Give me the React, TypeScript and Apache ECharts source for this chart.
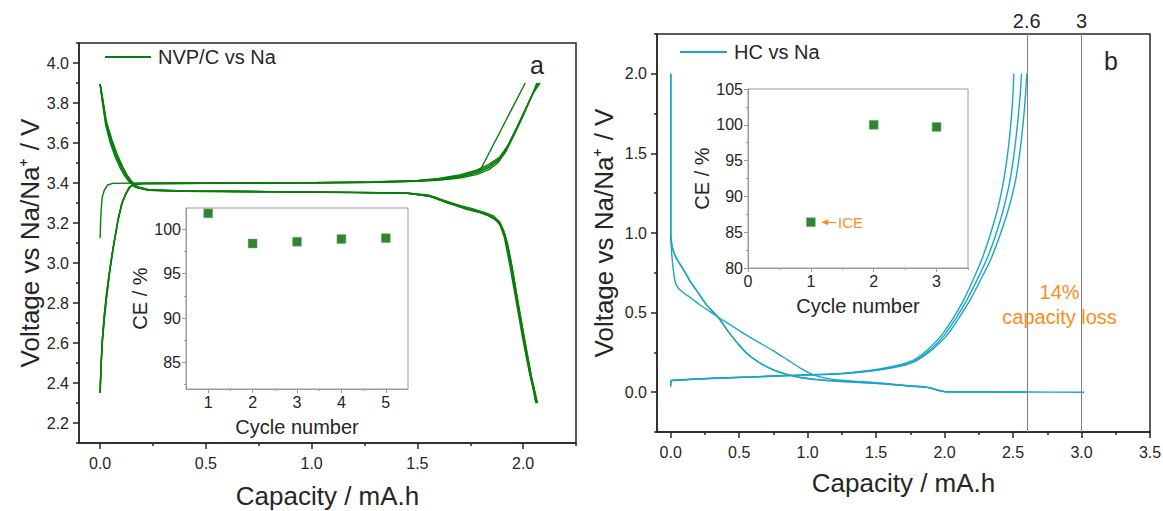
import React, { useEffect, useRef } from 'react';
import * as echarts from 'echarts';

const FONT = "'Liberation Sans', Arial, Helvetica, sans-serif";
const GREEN = '#0b7d0b';
const CYAN = '#1aa6c6';
const ORANGE = '#ff8c1a';
const DARK = '#262626';
const INSET = '#9a9a9a';
const SQUARE = '#006400';

// ---------- tick labels ----------
const aXTicks = [0, 0.5, 1.0, 1.5, 2.0];
const aXMinor = [0.25, 0.75, 1.25, 1.75, 2.25];
const aYTicks = [2.2, 2.4, 2.6, 2.8, 3.0, 3.2, 3.4, 3.6, 3.8, 4.0];
const aYMinor = [2.1, 2.3, 2.5, 2.7, 2.9, 3.1, 3.3, 3.5, 3.7, 3.9, 4.1];
const aInXTicks = [1, 2, 3, 4, 5];
const aInXMinor = [1.5, 2.5, 3.5, 4.5];
const aInYTicks = [85, 90, 95, 100];
const aInYMinor = [82.5, 87.5, 92.5, 97.5];
const bXTicks = [0, 0.5, 1.0, 1.5, 2.0, 2.5, 3.0, 3.5];
const bXMinor = [0.25, 0.75, 1.25, 1.75, 2.25, 2.75, 3.25];
const bYTicks = [0, 0.5, 1.0, 1.5, 2.0];
const bYMinor = [-0.25, 0.25, 0.75, 1.25, 1.75, 2.25];
const bInXTicks = [0, 1, 2, 3];
const bInXMinor = [0.5, 1.5, 2.5, 3.5];
const bInYTicks = [80, 85, 90, 95, 100, 105];
const bInYMinor = [82.5, 87.5, 92.5, 97.5, 102.5];

// ---------- panel a: NVP/C vs Na (capacity mA.h, voltage V) ----------
const aCharge1 = [[0, 3.125], [0.002, 3.2], [0.005, 3.27], [0.01, 3.33], [0.02, 3.365], [0.035, 3.39], [0.06, 3.398], [0.2, 3.4], [0.6, 3.4], [1.0, 3.401], [1.3, 3.403], [1.5, 3.41], [1.62, 3.42], [1.72, 3.437], [1.8, 3.47], [2.01, 3.9]];
const aCharge2 = [[0, 2.35], [0.003, 2.45], [0.01, 2.6], [0.02, 2.72], [0.03, 2.82], [0.045, 2.95], [0.06, 3.06], [0.082, 3.2], [0.1, 3.29], [0.12, 3.345], [0.137, 3.378], [0.155, 3.39], [0.2, 3.396], [0.5, 3.398], [1.0, 3.4], [1.3, 3.403], [1.5, 3.408], [1.6, 3.414], [1.7, 3.425], [1.78, 3.442], [1.84, 3.468], [1.88, 3.5], [1.92, 3.56], [1.96, 3.645], [2.0, 3.735], [2.035, 3.82], [2.065, 3.9]];
const aCharge3 = [[0, 2.35], [0.003, 2.45], [0.01, 2.6], [0.02, 2.73], [0.03, 2.83], [0.045, 2.96], [0.061, 3.07], [0.084, 3.21], [0.102, 3.295], [0.122, 3.348], [0.139, 3.379], [0.157, 3.391], [0.2, 3.397], [0.5, 3.399], [1.0, 3.401], [1.3, 3.404], [1.5, 3.41], [1.6, 3.417], [1.7, 3.43], [1.78, 3.45], [1.84, 3.478], [1.88, 3.51], [1.92, 3.57], [1.96, 3.655], [2.0, 3.745], [2.04, 3.835], [2.072, 3.9]];
const aCharge4 = [[0, 2.35], [0.003, 2.46], [0.01, 2.61], [0.02, 2.74], [0.03, 2.84], [0.046, 2.97], [0.062, 3.08], [0.085, 3.22], [0.104, 3.3], [0.124, 3.35], [0.141, 3.38], [0.159, 3.392], [0.2, 3.397], [0.5, 3.399], [1.0, 3.402], [1.3, 3.405], [1.5, 3.412], [1.6, 3.42], [1.7, 3.435], [1.78, 3.457], [1.84, 3.486], [1.885, 3.52], [1.925, 3.58], [1.965, 3.665], [2.005, 3.755], [2.045, 3.845], [2.077, 3.9]];
const aCharge5 = [[0, 2.35], [0.003, 2.46], [0.01, 2.62], [0.02, 2.75], [0.03, 2.85], [0.047, 2.98], [0.063, 3.09], [0.086, 3.225], [0.105, 3.305], [0.125, 3.352], [0.142, 3.381], [0.16, 3.393], [0.2, 3.398], [0.5, 3.4], [1.0, 3.402], [1.3, 3.406], [1.5, 3.413], [1.6, 3.423], [1.7, 3.44], [1.78, 3.464], [1.84, 3.494], [1.89, 3.53], [1.93, 3.59], [1.97, 3.675], [2.01, 3.765], [2.05, 3.855], [2.08, 3.9]];

const aDis1 = [[0, 3.895], [0.01, 3.82], [0.027, 3.7], [0.05, 3.61], [0.074, 3.54], [0.1, 3.48], [0.121, 3.44], [0.145, 3.405], [0.17, 3.38], [0.23, 3.365], [0.4, 3.36], [0.8, 3.357], [1.2, 3.353], [1.45, 3.35], [1.55, 3.34], [1.62, 3.315], [1.7, 3.288], [1.76, 3.272], [1.82, 3.252], [1.86, 3.235], [1.89, 3.205], [1.915, 3.14], [1.94, 3.02], [1.97, 2.84], [2.0, 2.66], [2.03, 2.48], [2.06, 2.3]];
const aDis2 = [[0, 3.89], [0.01, 3.81], [0.026, 3.69], [0.048, 3.6], [0.071, 3.53], [0.097, 3.47], [0.118, 3.432], [0.142, 3.4], [0.167, 3.378], [0.23, 3.364], [0.4, 3.359], [0.8, 3.356], [1.2, 3.352], [1.45, 3.348], [1.55, 3.336], [1.62, 3.31], [1.7, 3.282], [1.76, 3.265], [1.82, 3.246], [1.86, 3.226], [1.89, 3.192], [1.912, 3.125], [1.935, 3.0], [1.965, 2.82], [1.995, 2.64], [2.028, 2.46], [2.062, 2.3]];
const aDis3 = [[0, 3.893], [0.01, 3.815], [0.028, 3.695], [0.052, 3.605], [0.076, 3.535], [0.102, 3.475], [0.123, 3.436], [0.147, 3.402], [0.172, 3.379], [0.23, 3.364], [0.4, 3.359], [0.8, 3.356], [1.2, 3.352], [1.45, 3.349], [1.56, 3.334], [1.63, 3.306], [1.71, 3.278], [1.77, 3.262], [1.83, 3.242], [1.87, 3.22], [1.898, 3.182], [1.92, 3.11], [1.942, 2.99], [1.97, 2.81], [2.0, 2.63], [2.032, 2.45], [2.064, 2.3]];
const aDis4 = [[0, 3.894], [0.011, 3.82], [0.029, 3.7], [0.054, 3.61], [0.078, 3.54], [0.104, 3.478], [0.125, 3.438], [0.149, 3.404], [0.174, 3.38], [0.23, 3.365], [0.4, 3.36], [0.8, 3.357], [1.2, 3.353], [1.45, 3.35], [1.57, 3.332], [1.64, 3.302], [1.72, 3.274], [1.78, 3.258], [1.835, 3.238], [1.875, 3.214], [1.902, 3.174], [1.924, 3.1], [1.946, 2.98], [1.974, 2.8], [2.004, 2.62], [2.036, 2.44], [2.066, 2.3]];
const aDis5 = [[0, 3.895], [0.012, 3.825], [0.03, 3.705], [0.056, 3.615], [0.08, 3.545], [0.106, 3.482], [0.127, 3.44], [0.151, 3.406], [0.176, 3.381], [0.23, 3.366], [0.4, 3.36], [0.8, 3.357], [1.2, 3.353], [1.45, 3.35], [1.58, 3.33], [1.65, 3.298], [1.73, 3.27], [1.79, 3.254], [1.84, 3.234], [1.88, 3.208], [1.906, 3.166], [1.928, 3.09], [1.95, 2.97], [1.978, 2.79], [2.008, 2.61], [2.04, 2.43], [2.068, 2.3]];

const aCycles = [1, 2, 3, 4, 5];
const aCE = [101.8, 98.4, 98.6, 98.9, 99.0];

// ---------- panel b: HC vs Na ----------
const bDis1 = [[0, 2.0], [0, 1.0], [0.005, 0.9], [0.015, 0.8], [0.031, 0.7], [0.05, 0.66], [0.092, 0.625], [0.15, 0.59], [0.214, 0.548], [0.29, 0.505], [0.36, 0.463], [0.45, 0.415], [0.55, 0.36], [0.65, 0.31], [0.749, 0.26], [0.85, 0.205], [0.95, 0.15], [1.04, 0.11], [1.12, 0.09], [1.24, 0.075], [1.5, 0.06], [1.72, 0.042], [1.87, 0.032], [1.96, 0.012], [2.01, 0.003], [2.3, 0.002], [2.6, 0.001], [3.02, 0.0]];
const bDis2 = [[0, 2.0], [0, 1.0], [0.005, 0.95], [0.015, 0.9], [0.04, 0.845], [0.09, 0.775], [0.14, 0.7], [0.2, 0.625], [0.26, 0.55], [0.31, 0.505], [0.36, 0.455], [0.42, 0.38], [0.5, 0.295], [0.56, 0.24], [0.63, 0.195], [0.7, 0.16], [0.78, 0.13], [0.87, 0.107], [0.95, 0.092], [1.04, 0.082], [1.24, 0.068], [1.5, 0.056], [1.72, 0.04], [1.87, 0.03], [1.96, 0.01], [2.01, 0.002], [2.3, 0.001], [2.6, 0.0]];
const bDis3 = [[0, 2.0], [0, 1.0], [0.005, 0.945], [0.016, 0.895], [0.042, 0.84], [0.093, 0.77], [0.144, 0.695], [0.205, 0.62], [0.265, 0.545], [0.315, 0.5], [0.365, 0.45], [0.425, 0.376], [0.505, 0.292], [0.565, 0.238], [0.635, 0.193], [0.705, 0.158], [0.785, 0.128], [0.875, 0.106], [0.955, 0.091], [1.05, 0.08], [1.25, 0.067], [1.52, 0.054], [1.74, 0.039], [1.89, 0.028], [1.97, 0.008], [2.02, 0.002], [2.3, 0.001], [2.56, 0.0]];
const bCharge1 = [[0, 0.035], [0.004, 0.07], [0.05, 0.075], [0.3, 0.086], [0.6, 0.095], [0.87, 0.104], [1.24, 0.115], [1.48, 0.135], [1.6, 0.15], [1.72, 0.172], [1.8, 0.2], [1.9, 0.26], [2.02, 0.36], [2.1, 0.46], [2.18, 0.57], [2.26, 0.7], [2.34, 0.84], [2.41, 1.0], [2.47, 1.16], [2.52, 1.34], [2.556, 1.55], [2.58, 1.75], [2.592, 1.88], [2.6, 2.0]];
const bCharge2 = [[0, 0.04], [0.004, 0.072], [0.05, 0.076], [0.3, 0.087], [0.6, 0.096], [0.87, 0.105], [1.24, 0.117], [1.48, 0.138], [1.6, 0.154], [1.72, 0.178], [1.8, 0.207], [1.9, 0.27], [2.0, 0.36], [2.08, 0.46], [2.16, 0.575], [2.24, 0.71], [2.31, 0.84], [2.37, 0.98], [2.43, 1.15], [2.48, 1.34], [2.515, 1.55], [2.54, 1.75], [2.553, 1.88], [2.562, 2.0]];
const bCharge3 = [[0, 0.045], [0.004, 0.074], [0.05, 0.077], [0.3, 0.088], [0.6, 0.097], [0.87, 0.106], [1.24, 0.118], [1.48, 0.14], [1.6, 0.158], [1.72, 0.184], [1.8, 0.215], [1.88, 0.27], [1.98, 0.36], [2.06, 0.46], [2.14, 0.58], [2.21, 0.71], [2.27, 0.83], [2.33, 0.98], [2.39, 1.16], [2.435, 1.35], [2.468, 1.55], [2.49, 1.75], [2.5, 1.88], [2.506, 2.0]];

const bCycles = [1, 2, 3];
const bCE = [86.4, 100.0, 99.7];

// ---------- helpers ----------
function majorAxis(gridIndex: number, min: number, max: number, ticks: number[], o: any) {
  return {
    type: 'value', gridIndex, min, max, position: o.position,
    axisLine: { show: true, onZero: false, lineStyle: { color: o.color, width: o.width } },
    axisTick: { show: true, inside: false, length: o.tickLen, customValues: ticks, lineStyle: { color: o.color, width: o.width } },
    minorTick: { show: false },
    axisLabel: {
      show: true, customValues: ticks, margin: o.margin, fontSize: o.labelSize, color: DARK, fontFamily: FONT,
      formatter: o.fmt,
    },
    splitLine: { show: false },
    name: o.name, nameLocation: 'middle', nameGap: o.nameGap,
    nameTextStyle: { fontSize: o.nameSize, color: DARK, fontFamily: FONT },
  };
}
function minorAxis(gridIndex: number, min: number, max: number, ticks: number[], o: any) {
  return {
    type: 'value', gridIndex, min, max, position: o.position,
    axisLine: { show: false, onZero: false },
    axisTick: { show: true, inside: false, length: o.tickLen, customValues: ticks, lineStyle: { color: o.color, width: o.width } },
    axisLabel: { show: false },
    splitLine: { show: false },
  };
}
const f1 = (v: number) => v.toFixed(1);
const f0 = (v: number) => String(Math.round(v));

const mainX = { position: 'bottom', color: DARK, width: 1.5, tickLen: 6, margin: 12, labelSize: 16, fmt: f1, name: 'Capacity / mA.h', nameSize: 26 };
const mainY = { position: 'left', color: DARK, width: 1.5, tickLen: 6, margin: 10, labelSize: 16, fmt: f1, name: 'Voltage vs Na/Na\u207A / V', nameSize: 26 };
const inX = { position: 'bottom', color: INSET, width: 1, tickLen: 4, margin: 5, labelSize: 16, fmt: f0, name: 'Cycle number', nameSize: 20, nameGap: 28 };
const inY = { position: 'left', color: INSET, width: 1, tickLen: 4, margin: 5, labelSize: 16, fmt: f0, name: 'CE / %', nameSize: 20 };

function lineSeries(name: string, data: number[][], axis: number, color: string, extra: any = {}) {
  return {
    type: 'line', name, data, xAxisIndex: axis, yAxisIndex: axis,
    symbol: 'none', showSymbol: false, silent: true, clip: true,
    lineStyle: { color, width: 1.4 }, itemStyle: { color },
    ...extra,
  };
}

export default function App() {
  const ref = useRef<HTMLDivElement>(null);
  useEffect(() => {
    const chart = echarts.init(ref.current!, null, { renderer: 'svg' });
    const aName = 'NVP/C vs Na';
    const bName = 'HC vs Na';
    const smoothB = { smooth: 0.25 };
    const option: any = {
      animation: false,
      backgroundColor: '#ffffff',
      textStyle: { fontFamily: FONT },
      grid: [
        { left: 79, top: 43, width: 497, height: 400, show: true, borderColor: DARK, borderWidth: 1.5, outerBoundsMode: 'none' },
        { left: 186, top: 208, width: 222, height: 181, show: true, borderColor: INSET, borderWidth: 1, backgroundColor: '#fff', outerBoundsMode: 'none' },
        { left: 657, top: 34, width: 493, height: 398, show: true, borderColor: DARK, borderWidth: 1.5, outerBoundsMode: 'none' },
        { left: 748, top: 89, width: 220, height: 179, show: true, borderColor: INSET, borderWidth: 1, backgroundColor: '#fff', outerBoundsMode: 'none' },
      ],
      xAxis: [
        majorAxis(0, -0.1, 2.25, aXTicks, { ...mainX, nameGap: 40 }),
        majorAxis(1, 0.5, 5.5, aInXTicks, inX),
        majorAxis(2, -0.1, 3.5, bXTicks, { ...mainX, nameGap: 38 }),
        majorAxis(3, 0, 3.5, bInXTicks, inX),
        minorAxis(0, -0.1, 2.25, aXMinor, { position: 'bottom', color: DARK, width: 1.5, tickLen: 3 }),
        minorAxis(1, 0.5, 5.5, aInXMinor, { position: 'bottom', color: INSET, width: 1, tickLen: 2 }),
        minorAxis(2, -0.1, 3.5, bXMinor, { position: 'bottom', color: DARK, width: 1.5, tickLen: 3 }),
        minorAxis(3, 0, 3.5, bInXMinor, { position: 'bottom', color: INSET, width: 1, tickLen: 2 }),
      ],
      yAxis: [
        majorAxis(0, 2.1, 4.1, aYTicks, { ...mainY, nameGap: 36 }),
        majorAxis(1, 82, 102.4, aInYTicks, { ...inY, nameGap: 34 }),
        majorAxis(2, -0.25, 2.25, bYTicks, { ...mainY, nameGap: 40 }),
        majorAxis(3, 80, 105, bInYTicks, { ...inY, nameGap: 36 }),
        minorAxis(0, 2.1, 4.1, aYMinor, { position: 'left', color: DARK, width: 1.5, tickLen: 3 }),
        minorAxis(1, 82, 102.4, aInYMinor, { position: 'left', color: INSET, width: 1, tickLen: 2 }),
        minorAxis(2, -0.25, 2.25, bYMinor, { position: 'left', color: DARK, width: 1.5, tickLen: 3 }),
        minorAxis(3, 80, 105, bInYMinor, { position: 'left', color: INSET, width: 1, tickLen: 2 }),
      ],
      legend: [
        {
          data: [aName], left: 105, top: 47, padding: 0, icon: 'rect', itemWidth: 46, itemHeight: 2,
          selectedMode: false, textStyle: { fontSize: 20, color: DARK, fontFamily: FONT, padding: [0, 0, 0, 2] },
        },
        {
          data: [bName], left: 680, top: 42, padding: 0, icon: 'rect', itemWidth: 47, itemHeight: 2,
          selectedMode: false, textStyle: { fontSize: 20, color: DARK, fontFamily: FONT, padding: [0, 0, 0, 2] },
        },
      ],
      graphic: [
        { type: 'text', left: 530, top: 52, style: { text: 'a', fontSize: 25, fill: DARK, fontFamily: FONT } },
        { type: 'text', left: 1104, top: 48, style: { text: 'b', fontSize: 25, fill: DARK, fontFamily: FONT } },
      ],
      series: [
        lineSeries(aName, aCharge1, 0, GREEN),
        lineSeries(aName, aCharge2, 0, GREEN),
        lineSeries(aName, aCharge3, 0, GREEN),
        lineSeries(aName, aCharge4, 0, GREEN),
        lineSeries(aName, aCharge5, 0, GREEN),
        lineSeries(aName, aDis1, 0, GREEN),
        lineSeries(aName, aDis2, 0, GREEN),
        lineSeries(aName, aDis3, 0, GREEN),
        lineSeries(aName, aDis4, 0, GREEN),
        lineSeries(aName, aDis5, 0, GREEN),
        {
          type: 'scatter', name: 'CE NVP/C', xAxisIndex: 1, yAxisIndex: 1, silent: true,
          data: aCycles.map((c, i) => [c, aCE[i]]),
          symbol: 'rect', symbolSize: 9,
          itemStyle: { color: SQUARE, borderColor: '#7cbc7c', borderWidth: 0.6 },
        },
        lineSeries(bName, bDis1, 2, CYAN, smoothB),
        lineSeries(bName, bDis2, 2, CYAN, smoothB),
        lineSeries(bName, bDis3, 2, CYAN, smoothB),
        lineSeries(bName, bCharge2, 2, CYAN, smoothB),
        lineSeries(bName, bCharge3, 2, CYAN, smoothB),
        lineSeries(bName, bCharge1, 2, CYAN, {
          ...smoothB,
          markLine: {
            silent: true, symbol: 'none',
            lineStyle: { color: '#808080', width: 1, type: 'solid' },
            label: { show: true, position: 'end', distance: 3, formatter: (p: any) => String(p.value), fontSize: 20, color: DARK, fontFamily: FONT },
            data: [{ xAxis: 2.6 }, { xAxis: 3 }],
          },
          markPoint: {
            silent: true, symbol: 'circle', symbolSize: 1,
            itemStyle: { color: 'rgba(0,0,0,0)' },
            label: { show: true, position: 'inside', formatter: '14%\ncapacity loss', color: ORANGE, fontSize: 20, lineHeight: 25, align: 'center', fontFamily: FONT },
            data: [{ coord: [2.84, 0.55] }],
          },
        }),
        {
          type: 'scatter', name: 'CE HC', xAxisIndex: 3, yAxisIndex: 3, silent: true,
          data: bCycles.map((c, i) => [c, bCE[i]]),
          symbol: 'rect', symbolSize: 9,
          itemStyle: { color: SQUARE, borderColor: '#7cbc7c', borderWidth: 0.6 },
          markLine: {
            silent: true, symbol: 'none',
            lineStyle: { color: ORANGE, width: 1, type: 'solid' },
            label: { show: true, position: 'start', distance: 2, formatter: 'ICE', color: ORANGE, fontSize: 15, fontFamily: FONT },
            data: [[{ coord: [1.4, 86.4] }, { coord: [1.22, 86.4] }]],
          },
          markPoint: {
            silent: true, symbol: 'triangle', symbolSize: [6, 7], symbolRotate: 90,
            itemStyle: { color: ORANGE },
            label: { show: false },
            data: [{ coord: [1.22, 86.4] }],
          },
        },
      ],
    };
    chart.setOption(option);
    return () => chart.dispose();
  }, []);
  return <div ref={ref} style={{ position: 'fixed', left: 0, top: 0, width: 1163, height: 511, background: '#fff' }} />;
}
